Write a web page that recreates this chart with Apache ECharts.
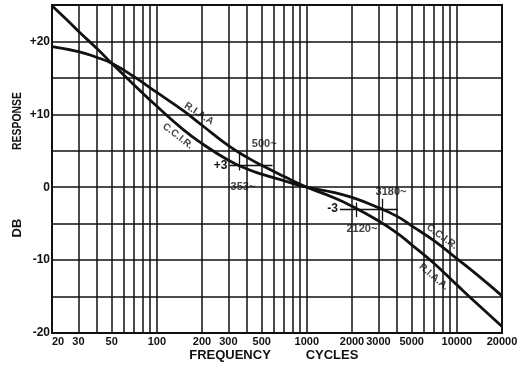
<!DOCTYPE html>
<html>
<head>
<meta charset="utf-8">
<script src="https://cdn.jsdelivr.net/npm/echarts@6/dist/echarts.min.js"></script>
<style>html,body{margin:0;padding:0;background:#fff}#c{width:526px;height:370px}</style>
</head>
<body>
<div id="c"></div>
<script>
// ---- data ----
const gridFreqs = [30,40,50,60,70,80,90,100,200,300,400,500,600,700,800,900,1000,2000,3000,4000,5000,6000,7000,8000,9000,10000];
const freqLabels = [20,30,50,100,200,300,500,1000,2000,3000,5000,10000,20000];
const dbLabelStep = 10;

const riaaFreq = [20,30,40,50,70,100,150,200,300,400,500,700,1000,1500,2000,3000,4000,5000,7000,10000,14000,20000];
const riaaDb   = [19.3,18.6,17.8,17.0,15.2,13.0,10.5,8.5,5.7,4.1,3.0,1.5,0,-1.4,-2.6,-4.6,-6.3,-7.9,-10.4,-13.4,-16.2,-19.1];

const ccirFreq = [20,25,30,40,50,70,100,150,200,300,400,500,700,1000,1500,2000,3000,4000,5000,7000,10000,14000,20000];
const ccirDb   = [24.9,23.0,21.4,19.0,17.0,14.1,11.1,7.9,6.0,3.7,2.5,1.8,0.9,0,-0.7,-1.4,-2.8,-4.0,-5.3,-7.3,-9.8,-12.2,-14.9];

// annotation segments [f1, db1, f2, db2]
const markSegments = [
  [305, 3, 590, 3],
  [353, 2.3, 353, 4.6],
  [1660, -3, 4050, -3],
  [2120, -2.1, 2120, -4.1],
  [3180, -1.6, 3180, -4.6]
];
const segLabels = ['+3', '', '-3', '', ''];

// text notes
const noteTexts = ['500~', '353~', '3180~', '2120~', 'R.I.A.A', 'C.C.I.R.', 'C.C.I.R.', 'R.I.A.A.'];
const noteFreqs = [520, 375, 3640, 2330, 191, 138, 7960, 7020];
const noteDb    = [5.9, 0.1, -0.7, -5.7, 10.1, 7.0, -6.8, -12.3];
const noteRot   = [0, 0, 0, 0, -33, -38, -36, -40];

// ---- chart ----
const FONT = "'Liberation Sans','DejaVu Sans',sans-serif";
const INK = '#111';
const chart = echarts.init(document.getElementById('c'), null, {renderer: 'canvas'});

const zip = (a, b) => a.map((v, i) => [v, b[i]]);

const option = {
  backgroundColor: '#fff',
  animation: false,
  grid: {left: 52, right: 24, top: 5, bottom: 37, show: true, borderColor: INK, borderWidth: 2, outerBoundsMode: 'none'},
  xAxis: {
    type: 'log', logBase: 10, min: 20, max: 20000,
    axisLine: {show: false}, axisTick: {show: false}, splitLine: {show: false},
    axisLabel: {
      customValues: freqLabels,
      formatter: v => String(Math.round(v)),
      margin: 3, color: INK, fontFamily: FONT, fontWeight: 'bold', fontSize: 11,
      alignMinLabel: 'left', showMinLabel: true, showMaxLabel: true
    }
  },
  yAxis: {
    type: 'value', min: -20, max: 25, interval: 5,
    axisLine: {show: false}, axisTick: {show: false},
    splitLine: {show: true, lineStyle: {color: INK, width: 1.6}},
    axisLabel: {
      formatter: v => (v % dbLabelStep === 0 && v <= 20) ? (v > 0 ? '+' + v : String(v)) : '',
      margin: 2, color: INK, fontFamily: FONT, fontWeight: 'bold', fontSize: 12
    }
  },
  graphic: [
    {type: 'text', x: 17, y: 121, rotation: Math.PI / 2, scaleX: 0.8,
      style: {text: 'RESPONSE', font: "bold 13px " + FONT, fill: INK, align: 'center', verticalAlign: 'middle'}},
    {type: 'text', x: 17, y: 228, rotation: Math.PI / 2,
      style: {text: 'DB', font: "bold 13px " + FONT, fill: INK, align: 'center', verticalAlign: 'middle'}},
    {type: 'text', x: 230, y: 355,
      style: {text: 'FREQUENCY', font: "bold 13px " + FONT, fill: INK, align: 'center', verticalAlign: 'middle'}},
    {type: 'text', x: 332, y: 355,
      style: {text: 'CYCLES', font: "bold 13px " + FONT, fill: INK, align: 'center', verticalAlign: 'middle'}}
  ],
  series: [
    {
      type: 'line', name: 'grid', data: [], silent: true, z: 1,
      markLine: {
        silent: true, symbol: 'none', animation: false,
        label: {show: false},
        lineStyle: {color: INK, width: 1.5, type: 'solid'},
        data: gridFreqs.map(f => ({xAxis: f}))
      }
    },
    {
      type: 'line', name: 'notes', data: [], silent: true, z: 3,
      markLine: {
        silent: true, symbol: 'none', animation: false,
        lineStyle: {color: INK, width: 1.3, type: 'solid'},
        data: markSegments.map((s, i) => [
          {coord: [s[0], s[1]], label: {show: !!segLabels[i], formatter: segLabels[i], position: 'start', distance: 2,
            color: INK, fontFamily: FONT, fontWeight: 'bold', fontSize: 12}},
          {coord: [s[2], s[3]]}
        ])
      }
    },
    {
      type: 'line', name: 'R.I.A.A.', data: zip(riaaFreq, riaaDb), smooth: 0.5,
      showSymbol: false, lineStyle: {color: INK, width: 2.8}, z: 4
    },
    {
      type: 'line', name: 'C.C.I.R.', data: zip(ccirFreq, ccirDb), smooth: 0.5,
      showSymbol: false, lineStyle: {color: INK, width: 2.8}, z: 4
    },
    {
      type: 'scatter', name: 'labels', symbolSize: 0, silent: true, z: 5,
      data: noteTexts.map((t, i) => ({
        value: [noteFreqs[i], noteDb[i]],
        label: {show: true, position: 'inside', formatter: t, rotate: noteRot[i],
          color: INK, fontFamily: FONT, fontWeight: 'bold', fontSize: i < 4 ? 11 : 10}
      }))
    }
  ]
};
chart.setOption(option);
</script>
</body>
</html>
